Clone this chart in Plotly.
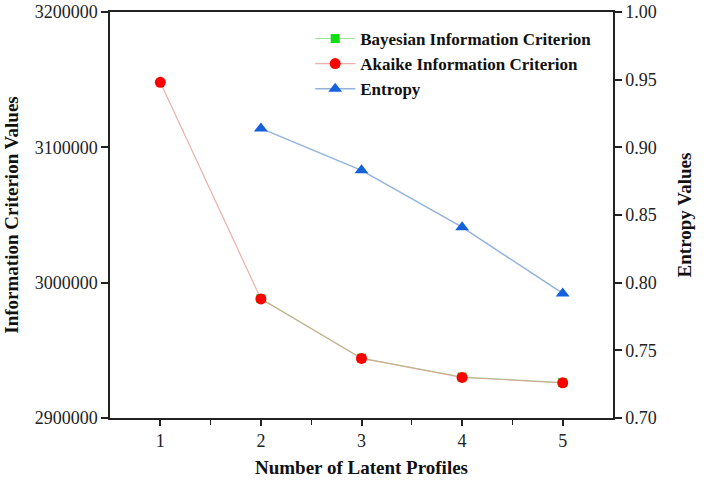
import plotly.graph_objects as go

profiles = [1, 2, 3, 4, 5]
bic = [None, 2988200, 2944200, 2930200, 2926200]
aic = [3148000, 2988000, 2944000, 2930000, 2926000]
entropy = [None, 0.914, 0.883, 0.841, 0.792]
ic_ticks = [2900000, 3000000, 3100000, 3200000]
ent_ticks = [0.70, 0.75, 0.80, 0.85, 0.90, 0.95, 1.00]

serif = "Liberation Serif, Times New Roman, serif"

fig = go.Figure()
fig.add_trace(go.Scatter(
    x=profiles, y=bic, name="Bayesian Information Criterion", mode="lines+markers",
    line=dict(color="#9be59b", width=1.2),
    marker=dict(symbol="square", size=9, color="#11dd11"), connectgaps=False))
fig.add_trace(go.Scatter(
    x=profiles, y=aic, name="Akaike Information Criterion", mode="lines+markers",
    line=dict(color="rgba(225,150,140,0.75)", width=1.2),
    marker=dict(symbol="circle", size=11, color="#ff0000")))
fig.add_trace(go.Scatter(
    x=profiles, y=entropy, name="Entropy", mode="lines+markers", yaxis="y2",
    line=dict(color="#93b3dc", width=1.5),
    marker=dict(symbol="triangle-up", size=12, color="#1560dd")))

fig.update_layout(
    width=708, height=483,
    margin=dict(l=110, r=95, t=12, b=65),
    paper_bgcolor="white", plot_bgcolor="white",
    font=dict(family=serif, size=18, color="#222"),
    showlegend=True,
    legend=dict(x=0.398, y=0.978, xanchor="left", yanchor="top",
                font=dict(family=serif, size=17, color="#111", weight="bold"),
                bgcolor="rgba(0,0,0,0)", tracegroupgap=0, itemwidth=40),
    xaxis=dict(
        range=[0.5, 5.5], tickvals=profiles, ticktext=[str(p) for p in profiles],
        showline=True, linecolor="#222", linewidth=1.5, mirror=True, automargin=False,
        ticks="outside", ticklen=6, tickwidth=1.5, tickcolor="#222",
        minor=dict(tickvals=[1.5, 2.5, 3.5, 4.5], ticks="outside", ticklen=5, tickwidth=1.2, tickcolor="#222"),
        showgrid=False, zeroline=False,
        title=dict(text="Number of Latent Profiles", font=dict(family=serif, size=19, color="#111", weight="bold"), standoff=10),
    ),
    yaxis=dict(
        range=[2900000, 3200000], tickvals=ic_ticks, ticktext=[str(v) for v in ic_ticks],
        showline=True, linecolor="#222", linewidth=1.5, automargin=False,
        ticks="outside", ticklen=7, tickwidth=1.5, tickcolor="#222",
        showgrid=False, zeroline=False,
        title=dict(text="Information Criterion Values", font=dict(family=serif, size=19, color="#111", weight="bold"), standoff=11),
    ),
    yaxis2=dict(
        range=[0.70, 1.00], overlaying="y", side="right", automargin=False,
        tickvals=ent_ticks, ticktext=[f"{v:.2f}" for v in ent_ticks],
        showline=True, linecolor="#222", linewidth=1.5,
        ticks="outside", ticklen=7, tickwidth=1.5, tickcolor="#222",
        showgrid=False, zeroline=False,
        title=dict(text="Entropy Values", font=dict(family=serif, size=19, color="#111", weight="bold"), standoff=22),
    ),
)

fig.write_html("out.html")
